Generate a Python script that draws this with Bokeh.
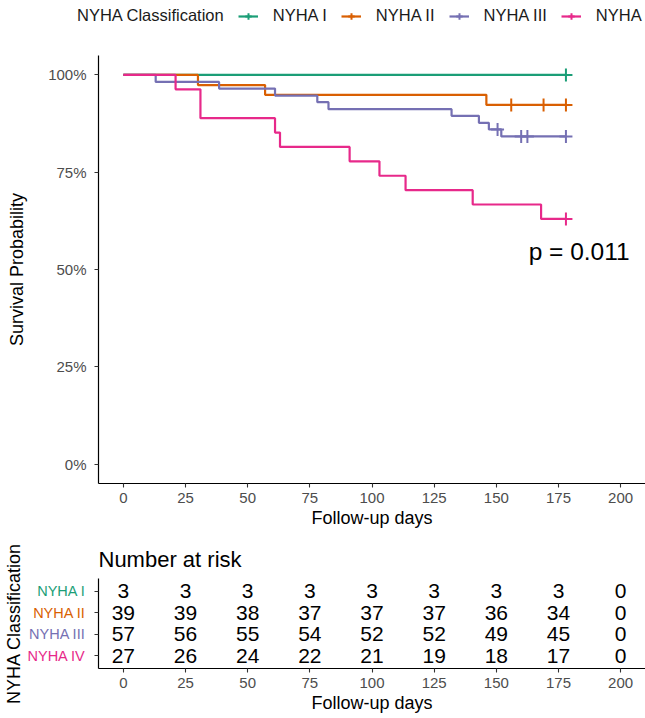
from bokeh.plotting import figure
from bokeh.models import (ColumnDataSource, Range1d, FixedTicker, NumeralTickFormatter,
                          Legend, LegendItem, Label)
from bokeh.layouts import column, row
from bokeh.embed import file_html
from bokeh.resources import INLINE
from bokeh.core.properties import value

FONT = "Liberation Sans"

# ---------------- data ----------------
legend_title = "NYHA Classification"
groups = ["NYHA I", "NYHA II", "NYHA III", "NYHA IV"]
colors = ["#1B9E77", "#D95F02", "#7570B3", "#E7298A"]

# Kaplan-Meier step curves (time in days, survival)
t_I = [0, 178]
s_I = [1.0, 1.0]
t_II = [0, 30, 57, 146, 178]
s_II = [1.0, 0.974, 0.949, 0.923, 0.923]
t_III = [0, 13, 38.5, 61, 78, 82.5, 132, 143, 147, 152, 178]
s_III = [1.0, 0.982, 0.965, 0.947, 0.930, 0.912, 0.895, 0.877, 0.860, 0.842, 0.842]
t_IV = [0, 21, 31, 61, 63, 91, 103, 113.5, 140.5, 168, 178]
s_IV = [1.0, 0.963, 0.889, 0.852, 0.815, 0.778, 0.741, 0.704, 0.667, 0.630, 0.630]

# censoring marks
ct_I = [178]
cs_I = [1.0]
ct_II = [156, 169, 178]
cs_II = [0.923, 0.923, 0.923]
ct_III = [150.5, 160, 162.5, 178]
cs_III = [0.860, 0.842, 0.842, 0.842]
ct_IV = [178]
cs_IV = [0.630]

# number at risk table
risk_times = [0, 25, 50, 75, 100, 125, 150, 175, 200]
risk_I = [3, 3, 3, 3, 3, 3, 3, 3, 0]
risk_II = [39, 39, 38, 37, 37, 37, 36, 34, 0]
risk_III = [57, 56, 55, 54, 52, 52, 49, 45, 0]
risk_IV = [27, 26, 24, 22, 21, 19, 18, 17, 0]
risk_rows = [4, 3, 2, 1]   # row position of each group (NYHA I on top)

x_ticks = [0, 25, 50, 75, 100, 125, 150, 175, 200]
y_ticks = [0, 0.25, 0.5, 0.75, 1.0]

pval_text = "p = 0.011"
pval_x = 163
pval_y = 0.545

XMIN, XMAX = -10, 210
YMIN, YMAX = -0.05, 1.05

TICK_COLOR = "#4D4D4D"
LINE_W = 2.2
CROSS_SIZE = 13


def style_axis(ax, label_size="18px"):
    ax.axis_line_color = "black"
    ax.axis_line_width = 1.2
    ax.major_tick_line_color = "#333333"
    ax.major_tick_line_width = 1.1
    ax.major_tick_in = 0
    ax.major_tick_out = 4
    ax.minor_tick_line_color = None
    ax.major_label_text_font = FONT
    ax.major_label_text_font_size = "15px"
    ax.major_label_text_color = TICK_COLOR
    ax.axis_label_text_font = FONT
    ax.axis_label_text_font_size = label_size
    ax.axis_label_text_font_style = "normal"
    ax.axis_label_text_color = "black"


def bare(fig):
    fig.outline_line_color = None
    fig.xgrid.visible = False
    fig.ygrid.visible = False


curves = [(t_I, s_I, ct_I, cs_I), (t_II, s_II, ct_II, cs_II),
          (t_III, s_III, ct_III, cs_III), (t_IV, s_IV, ct_IV, cs_IV)]

# ---------------- legend strip (its view window lies above the data, only the legend shows) ----------------
p0 = figure(width=645, height=30, x_range=Range1d(XMIN, XMAX), y_range=Range1d(YMAX + 1, YMAX + 2),
            x_axis_type=None, y_axis_type=None, output_backend="svg", toolbar_location=None,
            min_border_left=0, min_border_right=0, min_border_top=0, min_border_bottom=0)
bare(p0)
if "frame_align" in p0.properties():
    p0.frame_align = False
items = [LegendItem(label=legend_title, renderers=[])]
for g, c, (t, s, ct, cs) in zip(groups, colors, curves):
    kl = p0.line(x=t, y=s, line_color=c, line_width=LINE_W)
    kc = p0.scatter(x=ct, y=cs, marker="cross", size=CROSS_SIZE, line_color=c, line_width=2)
    items.append(LegendItem(label=g, renderers=[kl, kc]))
legend = Legend(items=items, orientation="horizontal", location=(42, 5),
                glyph_width=20, glyph_height=16, label_height=16, label_standoff=15,
                spacing=14, padding=0, margin=0, border_line_color=None,
                background_fill_alpha=0, label_text_font=FONT, label_text_font_size="16.5px",
                label_text_color="#1a1a1a")
p0.add_layout(legend)

# ---------------- survival plot ----------------
p1 = figure(width=645, height=506, x_range=Range1d(XMIN, XMAX), y_range=Range1d(YMIN, YMAX),
            output_backend="svg", toolbar_location=None,
            min_border_left=98, min_border_right=0, min_border_top=25, min_border_bottom=53)
bare(p1)

for c, (t, s, ct, cs) in zip(colors, curves):
    src = ColumnDataSource(dict(t=t, s=s))
    csrc = ColumnDataSource(dict(t=ct, s=cs))
    p1.step("t", "s", source=src, mode="after", line_color=c, line_width=LINE_W)
    p1.scatter("t", "s", source=csrc, marker="cross", size=CROSS_SIZE, line_color=c, line_width=2)

p1.add_layout(Label(x=pval_x, y=pval_y, text=pval_text, text_font=FONT,
                    text_font_size="24.5px", text_color="#000000",
                    text_align="left", text_baseline="middle"))

style_axis(p1.xaxis[0])
style_axis(p1.yaxis[0])
p1.xaxis.ticker = FixedTicker(ticks=x_ticks)
p1.xaxis.axis_label = "Follow-up days"
p1.xaxis.major_label_standoff = 5
p1.xaxis.axis_label_standoff = 2
p1.yaxis.ticker = FixedTicker(ticks=y_ticks)
p1.yaxis.formatter = NumeralTickFormatter(format="0%")
p1.yaxis.axis_label = "Survival Probability"
p1.yaxis.major_label_standoff = 8
p1.yaxis.axis_label_standoff = 18

# ---------------- risk table ----------------
risk_y = Range1d(0.4, 4.6)
LAB_W = 88
TAB_H = 181

# left strip with the coloured group names and the vertical title
p_lab = figure(width=LAB_W, height=TAB_H, x_range=Range1d(0, 1), y_range=risk_y,
               output_backend="svg", toolbar_location=None,
               min_border_left=22, min_border_right=0, min_border_top=42, min_border_bottom=49)
bare(p_lab)
p_lab.xaxis.visible = False
style_axis(p_lab.yaxis[0])
p_lab.yaxis.ticker = FixedTicker(ticks=[])
p_lab.yaxis.axis_line_color = None
p_lab.yaxis.major_tick_out = 0
p_lab.yaxis.major_label_standoff = 0
p_lab.yaxis.axis_label = legend_title
p_lab.yaxis.axis_label_standoff = 0
lab_src = ColumnDataSource(dict(x=[1] * len(groups), y=risk_rows, name=groups, color=colors))
p_lab.text("x", "y", text="name", source=lab_src, x_offset=-3, text_align="right",
           text_baseline="middle", text_color="color", text_font=value(FONT),
           text_font_size="14.5px")

p2 = figure(width=645 - LAB_W, height=TAB_H, x_range=Range1d(XMIN, XMAX), y_range=risk_y,
            output_backend="svg", toolbar_location=None, title="Number at risk",
            min_border_left=10, min_border_right=0, min_border_top=42, min_border_bottom=49)
bare(p2)
p2.title.text_font = FONT
p2.title.text_font_size = "22px"
p2.title.text_font_style = "normal"
p2.title.text_color = "black"
p2.title.align = "left"
p2.title.standoff = 13

risk_lists = [risk_I, risk_II, risk_III, risk_IV]
for rpos, vals in zip(risk_rows, risk_lists):
    src = ColumnDataSource(dict(x=risk_times, y=[rpos] * len(risk_times), txt=[str(v) for v in vals]))
    p2.text("x", "y", text="txt", source=src, text_align="center", text_baseline="middle",
            text_font=value(FONT), text_font_size="21px", text_color="black")

style_axis(p2.xaxis[0])
style_axis(p2.yaxis[0])
p2.xaxis.ticker = FixedTicker(ticks=x_ticks)
p2.xaxis.axis_label = "Follow-up days"
p2.xaxis.major_label_standoff = 5
p2.xaxis.axis_label_standoff = 2
p2.yaxis.ticker = FixedTicker(ticks=risk_rows)
p2.yaxis.major_label_overrides = {r: "" for r in risk_rows}
p2.yaxis.major_label_standoff = 0

layout = column(row(p0, spacing=0), p1, row(p_lab, p2, spacing=0), spacing=0)
open("out.html", "w").write(file_html(layout, INLINE))
